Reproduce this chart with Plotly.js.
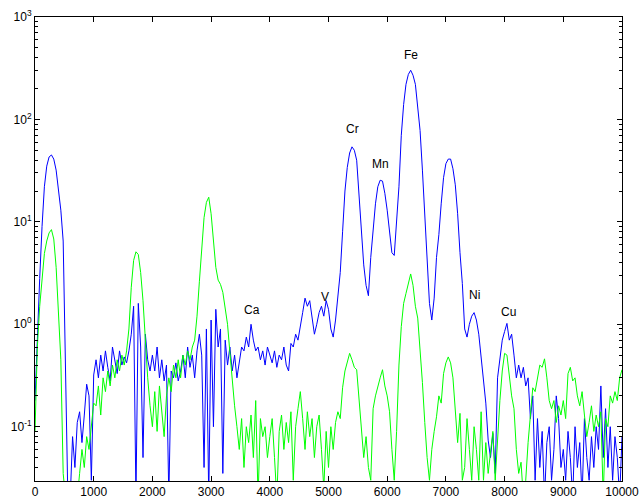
<!DOCTYPE html>
<html>
<head>
<meta charset="utf-8">
<script src="https://cdn.plot.ly/plotly-3.0.1.min.js"></script>
<style>html,body{margin:0;padding:0;background:#fff;}#chart{width:640px;height:501px;}</style>
</head>
<body>
<div id="chart"></div>
<script>
// Channel energy axis: first channel and spacing
const channelStart = 0;
const channelStep = 40;

// Blue spectrum (counts), channels 0..10000 step 40
const blueCounts = [
  0.18,0.8,2.8,9,22,35,43,45,41,32,21,13,6.5,0.5,0.02,0.02,0.08,0.04,0.11,0.14,0.07,0.13,0.26,0.2,0.03,
  0.32,0.45,0.3,0.5,0.35,0.55,0.38,0.28,0.6,0.45,0.33,0.55,0.4,0.48,0.42,0.55,0.8,1.5,0.02,1.6,0.6,0.05,0.8,0.45,0.35,
  0.5,0.35,0.6,0.3,0.45,0.28,0.4,0.02,0.35,0.3,0.42,0.28,0.35,0.5,0.3,0.6,0.38,0.5,0.3,0.55,0.8,0.5,0.04,0.9,0.02,
  1.1,0.1,1.4,0.6,0.9,0.035,0.7,0.4,0.6,0.35,0.5,0.3,0.45,0.6,0.55,0.75,0.6,1.0,0.7,0.55,0.6,0.45,0.55,0.4,0.6,
  0.5,0.42,0.55,0.38,0.5,0.45,0.6,0.4,0.35,0.65,0.6,0.8,0.7,1.0,1.3,1.8,1.5,1.7,1.2,0.8,1.0,1.3,1.5,1.2,1.7,
  1.4,0.9,0.75,1.1,1.9,3.2,8,20,34,47,54,50,40,19,8,3.8,2.4,1.9,4.5,9,15,22,25.5,25,19,
  13,7.5,5,4.7,11,22,70,140,220,275,302,270,220,140,78,32,11,3.5,1.6,1.1,1.8,4.5,7.5,15,27,
  37,41,41,33,23,12,5,2.5,0.9,0.75,1.0,1.2,1.3,1.1,0.8,0.45,0.28,0.17,0.074,0.05,0.086,0.035,0.3,0.45,0.7,
  0.85,1.02,0.7,0.8,0.5,0.3,0.4,0.3,0.38,0.25,0.3,0.12,0.2,0.03,0.12,0.04,0.09,0.02,0.07,0.1,0.03,0.06,0.2,0.12,0.04,
  0.06,0.03,0.09,0.05,0.02,0.1,0.04,0.07,0.02,0.12,0.05,0.03,0.08,0.04,0.1,0.06,0.25,0.05,0.15,0.04,0.1,0.03,0.08,0.05,0.02,0.08
];

// Green spectrum (counts), channels 0..10000 step 40
const greenCounts = [
  0.09,0.6,1.5,2.9,4.9,6.5,7.8,8.4,6.8,3.6,1.4,0.45,0.035,0.02,0.02,0.02,0.02,0.02,0.02,0.035,0.06,0.04,0.08,0.06,0.1,
  0.17,0.16,0.25,0.13,0.3,0.22,0.35,0.25,0.4,0.3,0.45,0.35,0.5,0.4,0.55,0.9,2.3,4.2,5.1,4.8,3.2,1.7,0.7,0.3,0.16,
  0.1,0.22,0.09,0.25,0.15,0.08,0.2,0.3,0.22,0.4,0.3,0.45,0.3,0.5,0.4,0.55,0.45,0.6,0.7,1.2,2.6,6,11,15.5,17.4,
  12,6.5,3.6,2.7,2.45,2.05,1.5,1.0,0.53,0.28,0.16,0.1,0.06,0.12,0.04,0.1,0.07,0.13,0.05,0.18,0.02,0.12,0.08,0.1,0.05,
  0.08,0.12,0.05,0.02,0.09,0.13,0.06,0.11,0.07,0.14,0.03,0.1,0.15,0.22,0.12,0.06,0.14,0.08,0.12,0.05,0.1,0.13,0.06,0.025,0.09,
  0.04,0.1,0.06,0.11,0.14,0.12,0.24,0.35,0.42,0.52,0.45,0.38,0.36,0.18,0.09,0.05,0.08,0.04,0.03,0.15,0.2,0.25,0.3,0.36,0.25,
  0.2,0.14,0.06,0.03,0.09,0.4,0.95,1.6,2.0,2.5,3.1,2.4,1.5,1.15,0.6,0.27,0.11,0.05,0.03,0.06,0.09,0.125,0.2,0.17,0.33,
  0.42,0.48,0.42,0.3,0.16,0.07,0.135,0.03,0.04,0.12,0.06,0.03,0.1,0.06,0.03,0.14,0.03,0.07,0.035,0.06,0.09,0.03,0.08,0.18,0.35,
  0.52,0.5,0.3,0.2,0.15,0.06,0.035,0.045,0.02,0.03,0.07,0.14,0.24,0.22,0.3,0.4,0.38,0.46,0.3,0.18,0.15,0.18,0.11,0.16,0.13,
  0.18,0.12,0.33,0.38,0.28,0.3,0.2,0.16,0.22,0.13,0.08,0.11,0.16,0.09,0.13,0.1,0.14,0.02,0.12,0.1,0.2,0.17,0.22,0.18,0.3,0.36
];

// Element labels and their positions (x in channel units, y in counts)
const elementNames = ["Ca","V","Cr","Mn","Fe","Ni","Cu"];
const elementX = [3697, 4940, 5417, 5894, 6405, 7479, 8058];
const elementY = [1.37, 1.83, 80, 36.4, 430, 1.92, 1.31];

// Tick labels
const xTickVals = [0,1000,2000,3000,4000,5000,6000,7000,8000,9000,10000];
const xTickText = ["0","1000","2000","3000","4000","5000","6000","7000","8000","9000","10000"];
const yTickVals = [0.1, 1, 10, 100, 1000];
const yTickText = ["10<sup>-1</sup>","10<sup>0</sup>","10<sup>1</sup>","10<sup>2</sup>","10<sup>3</sup>"];
const yMinorVals = [0.04,0.05,0.06,0.07,0.08,0.09,0.2,0.3,0.4,0.5,0.6,0.7,0.8,0.9,2,3,4,5,6,7,8,9,20,30,40,50,60,70,80,90,200,300,400,500,600,700,800,900];

const font = {family: "Liberation Sans, Arial, sans-serif", size: 12, color: "#000"};

const traces = [
  {type: "scatter", mode: "lines", x0: channelStart, dx: channelStep, y: blueCounts,
   line: {color: "#0000ff", width: 1}, hoverinfo: "skip"},
  {type: "scatter", mode: "lines", x0: channelStart, dx: channelStep, y: greenCounts,
   line: {color: "#00ff00", width: 1}, hoverinfo: "skip"}
];

const annotations = elementNames.map((t, i) => ({
  text: t, x: elementX[i], y: Math.log10(elementY[i]), xref: "x", yref: "y",
  showarrow: false, xanchor: "center", yanchor: "middle", font: font
}));

const layout = {
  width: 640, height: 501,
  margin: {l: 35, r: 18, t: 17, b: 20, pad: 0},
  paper_bgcolor: "#fff", plot_bgcolor: "#fff",
  showlegend: false,
  font: font,
  xaxis: {
    range: [0, 10000], tickmode: "array", tickvals: xTickVals, ticktext: xTickText,
    ticks: "inside", ticklen: 5, tickcolor: "#000", showline: true, linecolor: "#000", linewidth: 1,
    mirror: "ticks", showgrid: false, zeroline: false, tickfont: font
  },
  yaxis: {
    type: "log", range: [-1.53, 3], tickmode: "array", tickvals: yTickVals, ticktext: yTickText,
    ticks: "inside", ticklen: 5, tickcolor: "#000", showline: true, linecolor: "#000", linewidth: 1,
    mirror: "ticks", showgrid: false, zeroline: false, tickfont: font,
    minor: {tickmode: "array", tickvals: yMinorVals, ticks: "inside", ticklen: 3, tickcolor: "#000", showgrid: false}
  },
  annotations: annotations
};

Plotly.newPlot("chart", traces, layout, {displayModeBar: false, staticPlot: true});
</script>
</body>
</html>
